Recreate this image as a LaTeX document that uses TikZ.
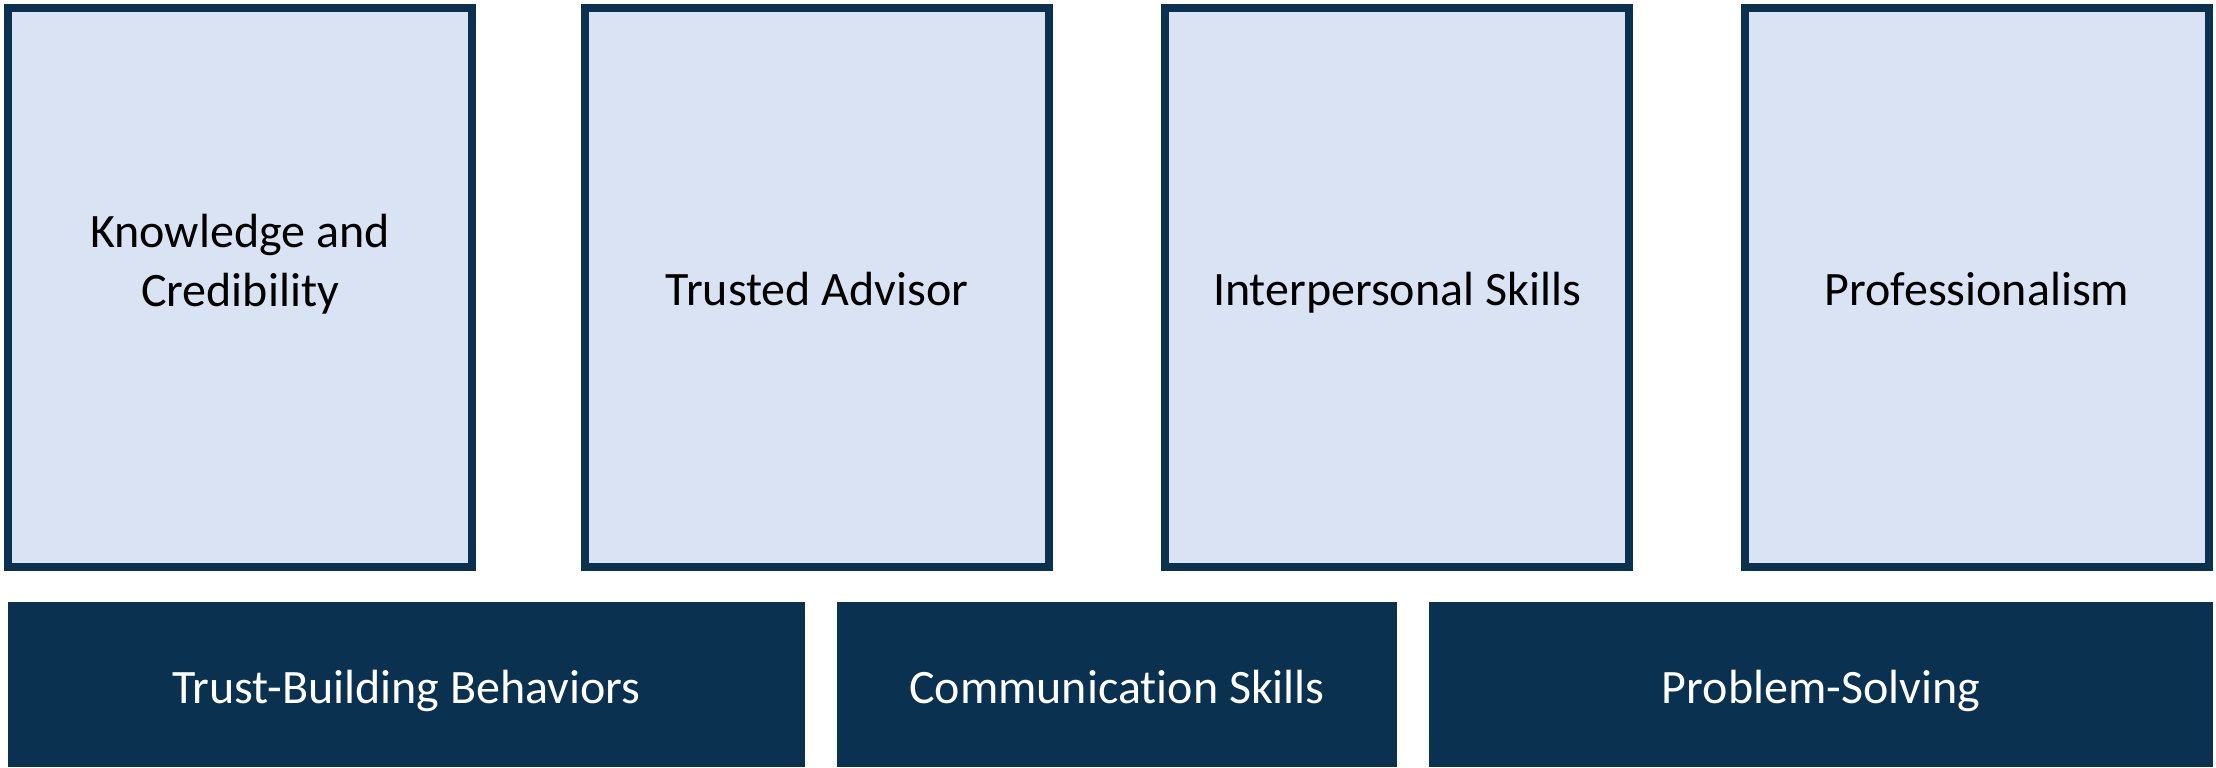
\documentclass[tikz,border=0pt]{standalone}
\usepackage{fontspec}
\setmainfont[Ligatures=NoCommon]{Carlito}
\definecolor{navy}{HTML}{0A3150}
\definecolor{paleblue}{HTML}{DAE3F3}
\begin{document}
\begin{tikzpicture}[x=0.5pt,y=-0.5pt,
  pillar/.style={draw=navy,line width=4pt,fill=paleblue},
  base/.style={fill=navy},
  label/.style={font=\fontsize{24}{29.5}\selectfont,align=center,
    text height=0.7em,text depth=0.25em,inner sep=0pt}]
\useasboundingbox (0,0) rectangle (2216,767);
% upper row: four pillars
\draw[pillar] (8,8) rectangle (472,567);
\draw[pillar] (585,8) rectangle (1049,567);
\draw[pillar] (1165,8) rectangle (1629,567);
\draw[pillar] (1745,8) rectangle (2209,567);
\node[label] (k) at (240,302) {Knowledge and\\Credibility};
\node[label] (t) at (817,301) {Trusted Advisor};
\node[label] (i) at (1397,301) {Interpersonal Skills};
\node[label] (p) at (1977,301) {Professionalism};
% lower row: foundation blocks
\fill[base] (8,602) rectangle (805,767);
\fill[base] (837,602) rectangle (1397,767);
\fill[base] (1429,602) rectangle (2213,767);
\node[label,text=white] (tb) at (406.5,699) {Trust-Building Behaviors};
\node[label,text=white] (cs) at (1117,699) {Communication Skills};
\node[label,text=white] (ps) at (1821,699) {Problem-Solving};
\end{tikzpicture}
\end{document}
